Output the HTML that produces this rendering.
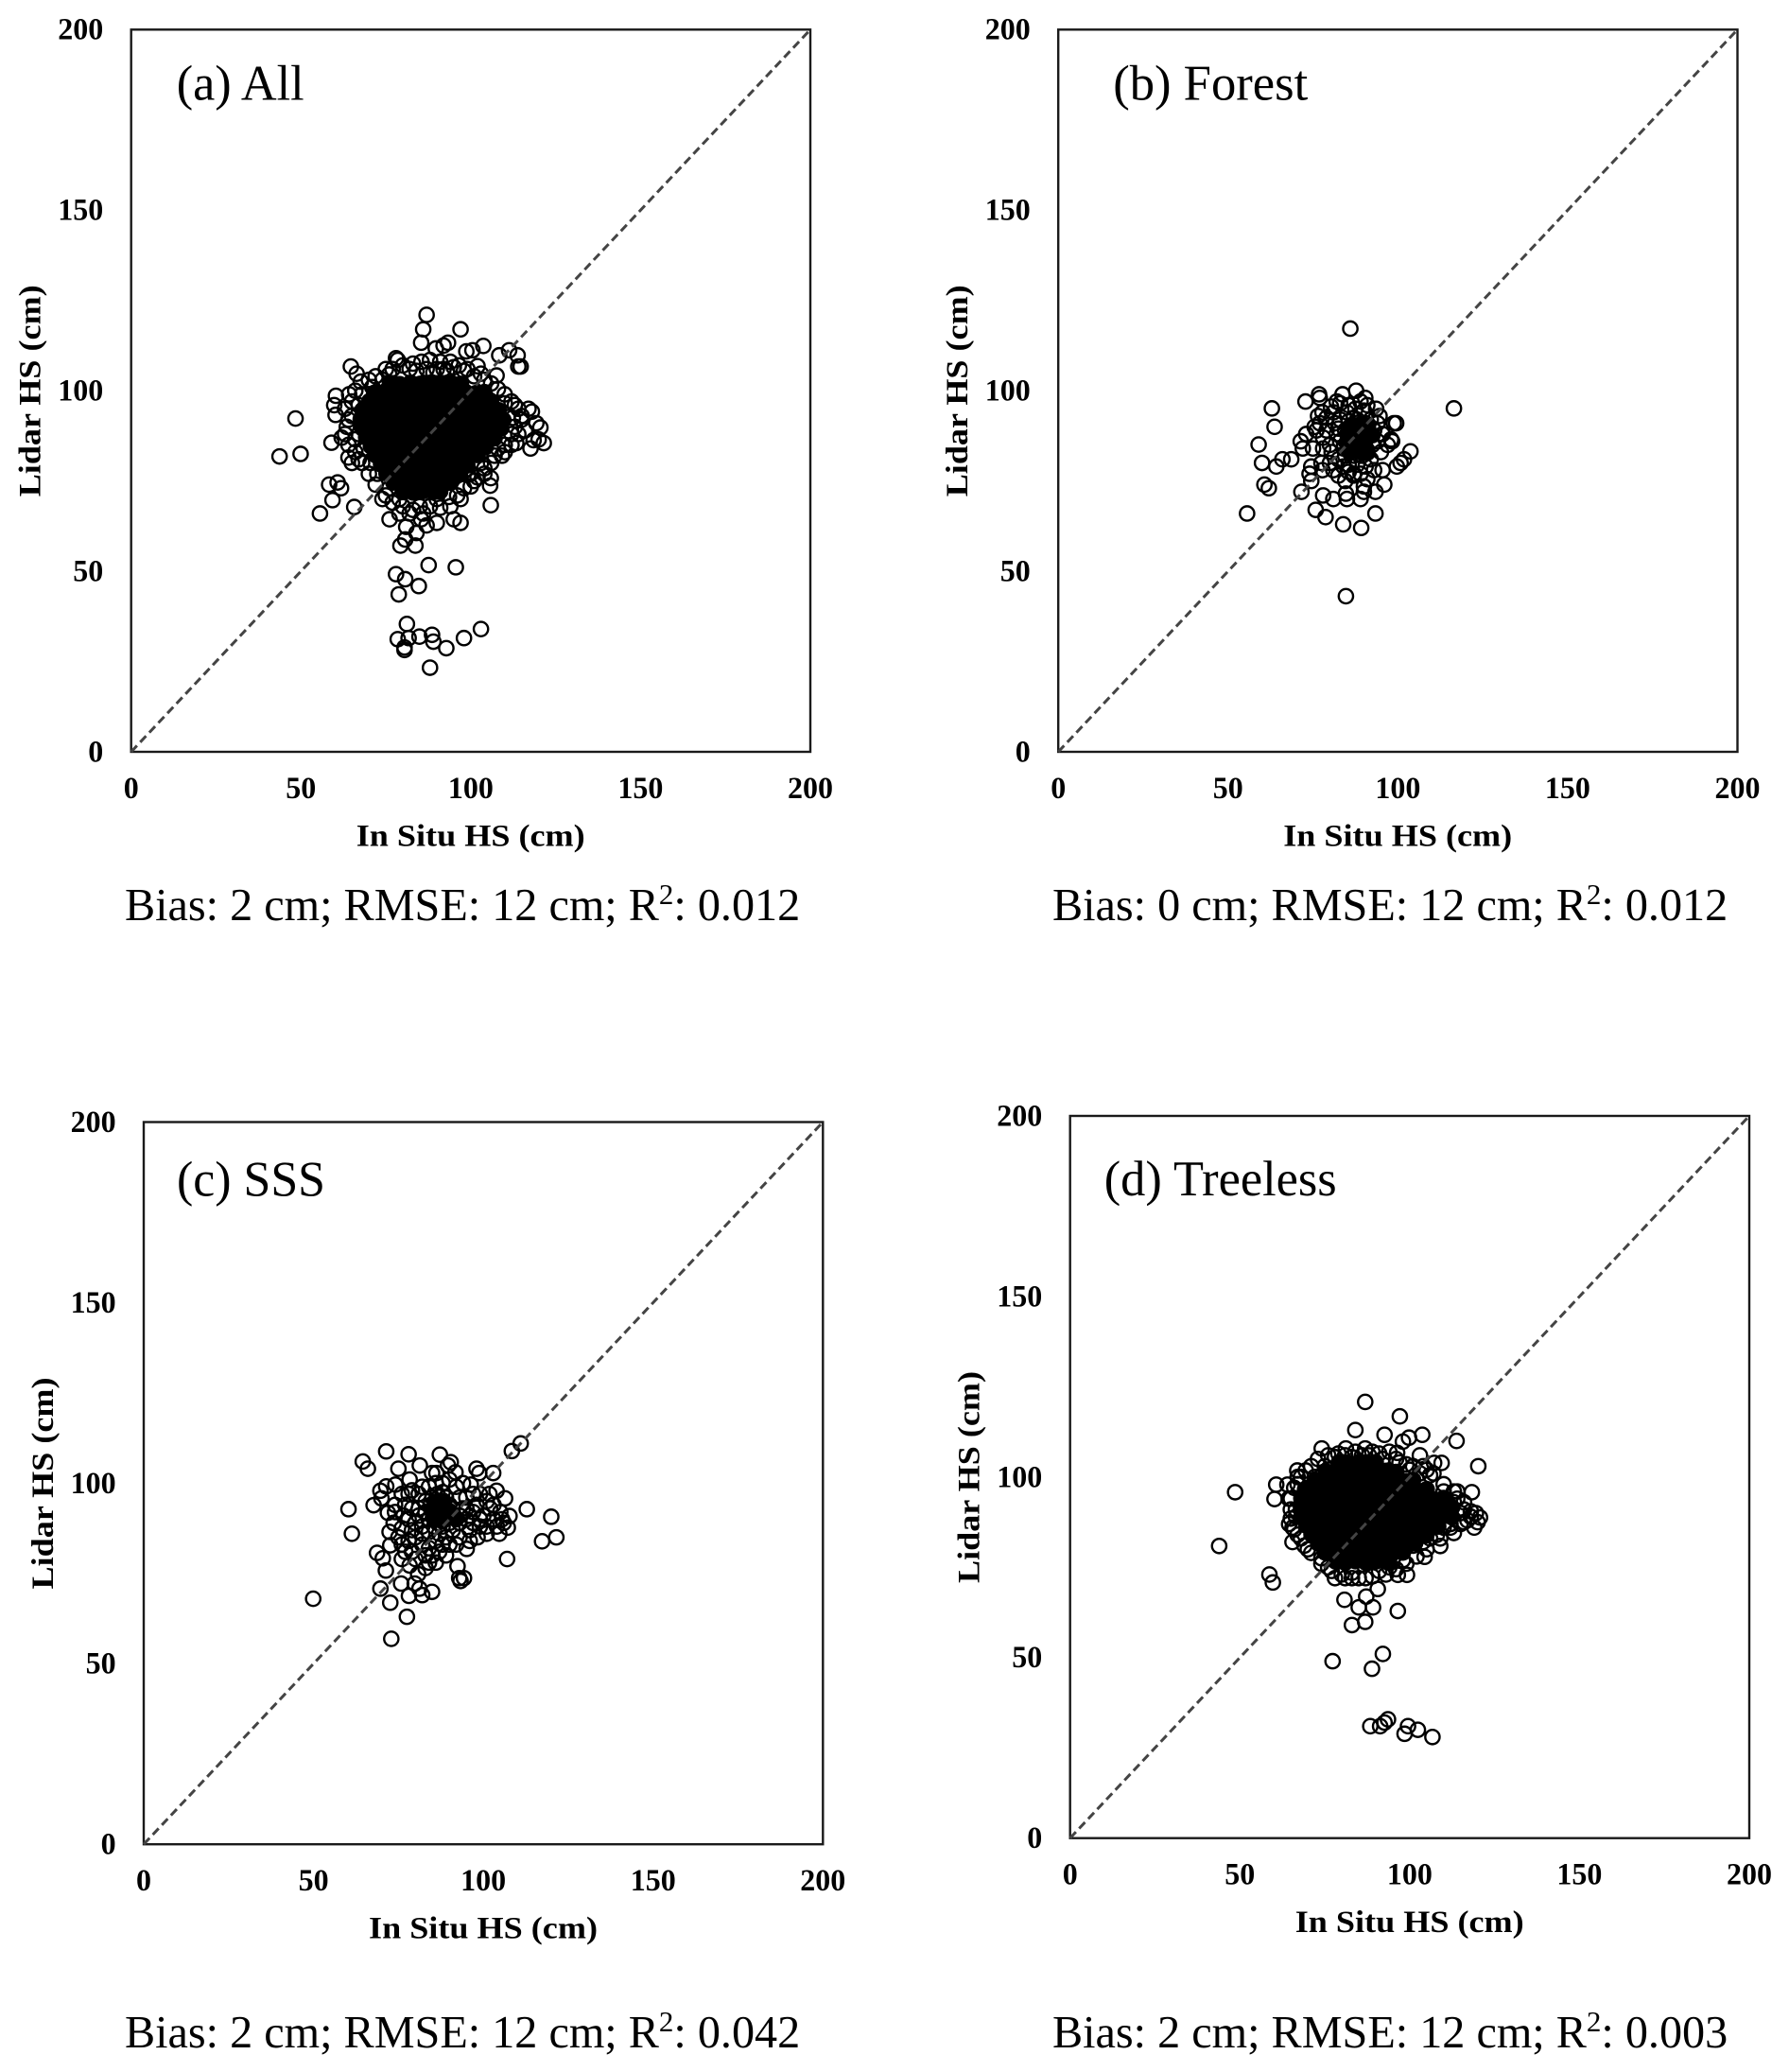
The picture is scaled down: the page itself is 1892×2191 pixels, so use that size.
<!DOCTYPE html>
<html lang="en">
<head>
<meta charset="utf-8">
<title>Lidar HS vs In Situ HS</title>
<style>
html,body{margin:0;padding:0;background:#fff;}
svg{display:block;}
text{fill:#000;font-family:"Liberation Serif",serif;}
.tick{font-size:33px;font-weight:bold;}
.axis-title{font-size:33px;font-weight:bold;}
.panel-title{font-size:53px;}
.stats{font-size:48.2px;}
.frame{fill:none;stroke:#1a1a1a;stroke-width:2.4px;}
</style>
</head>
<body>
<svg id="chart" width="1892" height="2191" viewBox="0 0 1892 2191" xmlns="http://www.w3.org/2000/svg">
  <rect width="1892" height="2191" fill="#fff"/>

  <g id="panel-a" transform="translate(138.7,31.3)">
    <rect class="frame" width="718.3" height="763.7"/>
    <text class="panel-title" x="48" y="74" textLength="135" lengthAdjust="spacingAndGlyphs">(a) All</text>
    <text class="axis-title" x="359" y="863" text-anchor="middle" textLength="242" lengthAdjust="spacingAndGlyphs">In Situ HS (cm)</text>
    <text class="axis-title" transform="translate(-96,382) rotate(-90)" text-anchor="middle" textLength="224" lengthAdjust="spacingAndGlyphs">Lidar HS (cm)</text>
  </g>
  <g id="panel-b" transform="translate(1119.2,31.3)">
    <rect class="frame" width="718.3" height="763.7"/>
    <text class="panel-title" x="58" y="74" textLength="206" lengthAdjust="spacingAndGlyphs">(b) Forest</text>
    <text class="axis-title" x="359" y="863" text-anchor="middle" textLength="242" lengthAdjust="spacingAndGlyphs">In Situ HS (cm)</text>
    <text class="axis-title" transform="translate(-96,382) rotate(-90)" text-anchor="middle" textLength="224" lengthAdjust="spacingAndGlyphs">Lidar HS (cm)</text>
  </g>
  <g id="panel-c" transform="translate(152,1186.5)">
    <rect class="frame" width="718.3" height="763.7"/>
    <text class="panel-title" x="35" y="78" textLength="157" lengthAdjust="spacingAndGlyphs">(c) SSS</text>
    <text class="axis-title" x="359" y="863" text-anchor="middle" textLength="242" lengthAdjust="spacingAndGlyphs">In Situ HS (cm)</text>
    <text class="axis-title" transform="translate(-96,382) rotate(-90)" text-anchor="middle" textLength="224" lengthAdjust="spacingAndGlyphs">Lidar HS (cm)</text>
  </g>
  <g id="panel-d" transform="translate(1131.7,1180)">
    <rect class="frame" width="718.3" height="763.7"/>
    <text class="panel-title" x="36" y="84" textLength="246" lengthAdjust="spacingAndGlyphs">(d) Treeless</text>
    <text class="axis-title" x="359" y="863" text-anchor="middle" textLength="242" lengthAdjust="spacingAndGlyphs">In Situ HS (cm)</text>
    <text class="axis-title" transform="translate(-96,382) rotate(-90)" text-anchor="middle" textLength="224" lengthAdjust="spacingAndGlyphs">Lidar HS (cm)</text>
  </g>

  <text class="stats" x="132" y="973">Bias: 2 cm; RMSE: 12 cm; R<tspan dy="-17" font-size="31">2</tspan><tspan dy="17">: 0.012</tspan></text>
  <text class="stats" x="1113" y="973">Bias: 0 cm; RMSE: 12 cm; R<tspan dy="-17" font-size="31">2</tspan><tspan dy="17">: 0.012</tspan></text>
  <text class="stats" x="132" y="2165">Bias: 2 cm; RMSE: 12 cm; R<tspan dy="-17" font-size="31">2</tspan><tspan dy="17">: 0.042</tspan></text>
  <text class="stats" x="1113" y="2165">Bias: 2 cm; RMSE: 12 cm; R<tspan dy="-17" font-size="31">2</tspan><tspan dy="17">: 0.003</tspan></text>
</svg>

<script>
var tickValues = [0, 50, 100, 150, 200];
var axisMin = 0;
var axisMax = 200;

var pointsAll = [
[43.7,81.8],[48.4,92.3],[49.9,82.5],[55.6,66],[59,85.6],[59.8,96],[60.3,98.6],[60.2,93.3],[58.3,74],[59.3,69.7],[60.8,74.6],[61.8,73],[65.7,67.8],[64.7,106.7],[66.4,104.7],[67.6,102.5],[64.2,99],[62,87],[63.5,90],[64,81.5],[65,80],[67,81],[66,86.5],[65,93],[67,96],
[78,109],[78.5,108.5],[87,121],[86,117],[85.4,113.3],[97,117],[103.7,112.4],[93.3,113.3],[92,112.5],[89.7,111.7],[98.7,110.9],[100.5,111.2],[108.4,109.8],[111.3,111.2],[113.8,109.8],[114,106.7],[114.7,106.7],[103,104.7],[107.6,104.2],[102,106.8],[88,108.5],[91,108],[94,108],[96.5,107],[80,107],[83,107.5],[85.5,108],[90,106],[93,105.5],[98,105.5],
[117,95],[118,94.2],[119.3,91],[120.5,89.8],[121.5,85.5],[118.5,86.3],[117.6,84],[113.4,85.5],[112.4,92.5],[115,92],[109.2,82],[105.9,75.8],[105.7,73.7],[105.9,68.3],[99.2,76.7],[110,96.5],[113,96],[108,84],[103,80],[120,86.5],[116,89],
[76.1,64.4],[79.3,57.1],[80.7,58.8],[83.7,57.1],[84,60.6],[81,62.3],[85.4,64.4],[87,62.7],[90,63.4],[91,67.6],[95,64.4],[97,63.4],[93.6,70.6],[87.6,51.7],[95.6,51.1],[78,49.2],[80.7,47.8],[84.7,45.9],[78.8,43.6],[81.2,35.4],[103,34],[88.6,32.4],[84.9,31.9],[78.5,31.2],[81.7,31.5],[89,30.5],[98,31.5],[92.8,28.7],[80.5,28.9],[80.5,28.2],[88,23.3],[79,66],[82,66],[88,68],[74,70],[76,73],
[72.5,77],[70.5,80],[68.5,84],[67,88],[100,73.5],[102,76],[104,78.5],[107,82],[110,85],[112,88],[71,101],[74,103],[76,104.5],
[72,104],[75,106],[77,106],[82,106],[84,105.5],[87,106],[89,105],[92,106],[95,106.5],[99,106],[101,104],[104,103],[106,102],[108,100.5],[110,99],[112,97],[114,95],[115,93],[113,90],[114,88],[112,85],[110,83],[106,80],[104,77],[101,75],[98,73],[96,71],[94,68],[86,66],[83,67],[80,68],[77,69],[75,71],[72,74],[70,77],[68,80],[66,83],[64,85],[63,88],[64,92],[63,95],[65,97],[66,100],[68,99],[70,103],[97,70],[90,70],[85,68],[79,70],[100,77]
];

var denseAll = [
[76.2,102.1],[79.1,101.8],[82.3,102.2],[85.1,101.9],[88.2,102.1],[91,101.8],[94.2,102.2],[97.1,101.9],
[71.6,99.4],[74.6,99.7],[77.5,99.3],[80.4,99.6],[83.5,99.4],[86.4,99.7],[89.5,99.3],[92.4,99.6],[95.5,99.4],[98.4,99.7],[101.5,99.3],[104,99.6],
[70.2,97.1],[73.1,96.8],[76.1,97.2],[79,96.9],[82.1,97.1],[85,96.8],[88.1,97.2],[91,96.9],[94.1,97.1],[97,96.8],[100.1,97.2],[103,96.9],[106,97.1],
[68.1,94.6],[71,94.3],[74,94.7],[77,94.4],[80,94.6],[83,94.3],[86,94.7],[89,94.4],[92,94.6],[95,94.3],[98,94.7],[101,94.4],[104,94.6],[107,94.3],[108.2,94.6],
[67.6,92.1],[69.5,91.8],[72.5,92.2],[75.5,91.9],[78.5,92.1],[81.5,91.8],[84.5,92.2],[87.5,91.9],[90.5,92.1],[93.5,91.8],[96.5,92.2],[99.5,91.9],[102.5,92.1],[105.5,91.8],[108.5,92.2],[109.6,91.9],
[68.1,89.6],[71,89.3],[74,89.7],[77,89.4],[80,89.6],[83,89.3],[86,89.7],[89,89.4],[92,89.6],[95,89.3],[98,89.7],[101,89.4],[104,89.6],[107,89.3],[109,89.6],
[69.2,87.1],[72.5,86.8],[75.5,87.2],[78.5,86.9],[81.5,87.1],[84.5,86.8],[87.5,87.2],[90.5,86.9],[93.5,87.1],[96.5,86.8],[99.5,87.2],[102.5,86.9],[105.5,87.1],[107,86.8],
[70.6,84.6],[74,84.3],[77,84.7],[80,84.4],[83,84.6],[86,84.3],[89,84.7],[92,84.4],[95,84.6],[98,84.3],[101,84.7],[104.4,84.4],
[72.1,82.1],[75.5,81.8],[78.5,82.2],[81.5,81.9],[84.5,82.1],[87.5,81.8],[90.5,82.2],[93.5,81.9],[96.5,82.1],[99.5,81.8],[102,82.2],
[73.6,79.6],[77,79.3],[80,79.7],[83,79.4],[86,79.6],[89,79.3],[92,79.7],[95,79.4],[98,79.6],[99,79.3],
[75.2,77.1],[78.5,76.8],[81.5,77.2],[84.5,76.9],[87.5,77.1],[90.5,76.8],[93.5,77.2],[96.8,76.9],
[77.2,74.6],[80,74.3],[83,74.7],[86,74.4],[89,74.6],[92,74.3],[94,74.7],
[80.1,72.1],[83,71.8],[86,72.2],[89,71.9],[91,72.1]
];

var pointsForest = [
[86,117.2],[116.5,95.1],[84.7,43.1],[55.6,66],[62.9,95.1],[63.7,90],[59,85.1],[60,80],[60.7,74],[62,73],[64.2,79],[66,81],[68.6,81],[72.8,97],[76.8,99],[77,98],[83.7,99],[87.7,100],[90.4,98],[93.6,95],[94.6,93],[98.8,91],[98.3,86],[97,85],[103.7,83.2],[101.8,81],[100.8,80],[99.7,79],[95.5,78],[96,74],[93.4,72],[93.4,66],[89.2,62],[83.9,63],[78.7,65],[75.8,67],[78,71],[71.6,72],[74.5,75],[74,77],[74.5,79],[77.8,78],[77.5,80],[81,70],[85,70],[84.7,71.5],[89,70],[90,73.5],[84.5,75],[71.4,86],[72,84],[73,88],[75,84],[76,89],[77.8,94],[80.3,95.6],[79,92.5],[99.5,91],[98,86.5],[90,72],[87,77],[81,78],[78,84],[79,89],[75.5,90],[76.5,93],[82,97],[85.5,96],[80,85],[82,88],[82.5,81],[84,79],
[85,94],[87.5,95],[90,94.5],[92,92],[83,92],[85.5,91.5],[88,92],[90.5,91],[93,89],[82.5,89.5],[84.5,89],[87,89.5],[89.5,89],[91.5,88],[94,86],[83,86],[85.5,86.5],[88,87],[90,86.5],[92.5,85],[84,84],[86.5,84.5],[89,84.5],[91,83.5],[84.5,82],[87,82],[89.5,82],[92,81],[85.5,79.5],[88,79.5],[90.5,79],[87,76.5],[89,77],[86.5,87.5],[88.5,85.5],[86,90],[88.5,90],[87,92.5],
[80.5,83],[81.5,91],[94,91],[95.5,88],[95,83],[93,78],[91,75.5],[85.5,77.5],[82.5,76.5],[80,80],[78,87],[77,91],[81,94],[83,96.5],[91,96],[89,97]
];

var denseForest = [
[86.2,90.4],[88.8,90.6],[91.2,90.2],[85.1,88],[87.8,87.8],[90.5,88.1],[92.5,87.7],[84.9,85.6],[87.6,85.4],[90.3,85.7],[85.8,83],[88.5,83.2],[91,82.8]
];

var pointsSss = [
[49.9,68],[60.3,92.8],[61.3,86],[64.5,106],[66,104],[71.4,108.8],[78,108],[87.2,107.9],[75,104],[81.3,104.9],[90.4,105.8],[91.8,103],[98,104],[98.8,102.8],[102.9,102.8],[108.4,108.9],[111,111],[112.8,92.8],[120,90.7],[117.3,83.9],[121.5,85],[107,79],[92.4,77],[92.9,73.7],[94.3,73.7],[93.3,72.9],[95.1,81.8],[84.9,69.9],[82,69],[78.1,68.8],[79.8,72.2],[75.8,72.2],[81.2,70.8],[69.7,70.8],[72.6,66.9],[77.5,63],[72.9,56.9],[68.7,80.7],[70.4,79.2],[71.3,75.8],[72.6,82.8],[76,79],[78.3,77.2],[80.8,74.8],[84,78],[67.7,93.9],[69.7,97.9],[70,95.8],[71.4,99.1],[74.1,99.6],[78.3,101],[84.9,102.8],[86.2,102.8],[89.6,104.9],[103.9,97.9],[106.4,95.8],[101.8,97],[96.3,99.6],[105.5,90],[107.7,90.9],[107.2,87.7],[104.7,86],[98.3,85],[72.4,86.5],[73.6,89],[71.9,91.8],[76.5,91],[78,97],[79,93],[75,85],[78,84],[76,87.5],[80,89],[82,86],[79,81],[82,83],[84,99],[88,100],[92,99],[95,96],[98,94],[100,91],[102,93],[99,88],[96,87],[93,85],[90,83],[87,81],[85,80],[95,90],[93,96],[81,97],[77,94],[74,92],[79,87],
[84,90],[85.5,88],[87,86],[89,85],[91,87],[93,89],[96,91],[94,93],[92,90],[90,89],[88,88],[86,84],[83,92],[84.5,94],[85,96],[86.5,97],[88,97.5],[89,96],[90,94],[88.5,94],[87,95],[85.5,92.5],[86.5,91],[88,91.5],[89.5,92.5],[91,93],[87,93],[85.5,90.5],[88,89.5],[90,91],[86.5,89],[84,86.5],[82,88],[81,91],[83,95],
[76,83],[78,90],[80,85],[81,93],[74,94],[76,97],[79,98],[82,99],[86,100],[90,101],[94,100],[97,97],[99,97],[101,95],[103,90],[101,88],[97,89],[95,93],[93,91],[97,92],[99,90],[96,84],[92,83],[88,83],[84,82],[80,79],[77,81],[83,80],[86,78],[89,80],[83,76.5],[101,86],[104,88],[106,89],[103,94],[105,92]
];

var denseSss = [
[85.6,94.8],[88.2,95.1],[84.9,92.3],[87.5,92.6],[90.1,92.2],[85.6,90],[88.3,89.8],[91.5,90.4]
];

var pointsTreeless = [
[43.9,80.9],[48.6,95.8],[60.2,93.9],[60.7,97.9],[58.7,73],[59.7,70.8],[65.5,82],[64,97.9],[64.4,94],[66.9,101.8],[69.4,101.8],[74.1,107.9],[84,113],[86.9,120.8],[97.1,116.8],[92.6,111.7],[98,109.8],[99.8,110.9],[103.7,111.7],[113.8,110],[120.2,103],[118.3,95.8],[109.4,103.9],[107.2,103.9],[103,106],[96.3,106.7],[86.9,107.9],[81.2,107.9],[120.7,88.8],[119,86],[119.5,90],[104.4,77.9],[109,80.9],[103.9,82],[99.2,72.9],[96.5,72.9],[90.6,69],[87.2,66.9],[80.8,66],[85,63.9],[89.2,63.9],[96.5,62.9],[83,59],[86.9,59.9],[92.1,51],[77.3,49],[88.9,46.9],[88.4,31],[91.3,31],[92.6,32],[93.6,32.9],[99.5,31],[98.5,28.9],[102.4,30],[106.7,28],
[64.5,87],[65,88.5],[65.5,86],[66.5,89],[66,85.5],[67,98],[70,97],[72,100],[75,103],[78,105.5],[83,105.5],[92,105],[96,105],[99,103.5],[103,101],[106,100.5],[110,98],[113,96],[114,94],[116,91],[117,88],[115,87],[112,86],[110,86],[106,83],[101,81],[98,77],[94,75],[76,75],[74,77.5],[78,72],[81,72],[83,72],[85,72],[87,72],[89,72.5],[91,74],[70,80],[68,83],[66.5,91],[114,96],[116,93],[118,89],[120,87.5],[118,90.5],[112,87],[108,84],[86,106],[89,107],[101,103],[105,102],[79,106.5],
[68,100],[71,103],[73,105],[76,106],[81,106],[84,107],[88,106],[91,106.5],[94,107],[97,104],[100,102],[104,103],[107,101],[110,96],[113,93],[115,90],[116,87.5],[113,84.5],[109,83],[105,80],[102,78],[99,76],[96,74.5],[93,73],[83,73.5],[80,73],[77,74],[74,76],[71,79],[69,81],[67,84],[65,91],[65,94],[66,97],[67,100]
];

var denseTreeless = [
[79.2,104.1],[82.1,103.8],[85.2,104.2],[88.1,103.9],[90,104.1],
[75.3,101.6],[78.2,101.3],[81.2,101.7],[84.2,101.4],[87.2,101.6],[90.2,101.3],[93.2,101.7],[96,101.4],
[72.2,99.1],[75,98.8],[78,99.2],[81,98.9],[84,99.1],[87,98.8],[90,99.2],[93,98.9],[96,99.1],[99,98.8],[101,99.2],
[69.2,96.6],[72,96.3],[75,96.7],[78,96.4],[81,96.6],[84,96.3],[87,96.7],[90,96.4],[93,96.6],[96,96.3],[99,96.7],[102,96.4],[105,96.6],
[68.1,94.1],[71,93.8],[74,94.2],[77,93.9],[80,94.1],[83,93.8],[86,94.2],[89,93.9],[92,94.1],[95,93.8],[98,94.2],[101,93.9],[104,94.1],[107,93.8],[110,94.2],
[68,91.6],[69.5,91.3],[72.5,91.7],[75.5,91.4],[78.5,91.6],[81.5,91.3],[84.5,91.7],[87.5,91.4],[90.5,91.6],[93.5,91.3],[96.5,91.7],[99.5,91.4],[102.5,91.6],[105.5,91.3],[108.5,91.7],[111,91.4],[112.5,91.6],
[68.1,89.1],[71,88.8],[74,89.2],[77,88.9],[80,89.1],[83,88.8],[86,89.2],[89,88.9],[92,89.1],[95,88.8],[98,89.2],[101,88.9],[104,89.1],[107,88.8],[110,89.2],[112.4,88.9],
[69.5,86.6],[72.5,86.3],[75.5,86.7],[78.5,86.4],[81.5,86.6],[84.5,86.3],[87.5,86.7],[90.5,86.4],[93.5,86.6],[96.5,86.3],[99.5,86.7],[102.5,86.4],[105.5,86.6],[108.4,86.3],
[71.1,84.1],[74,83.8],[77,84.2],[80,83.9],[83,84.1],[86,83.8],[89,84.2],[92,83.9],[95,84.1],[98,83.8],[101,84.2],[104.8,83.9],
[73.1,81.6],[75.5,81.3],[78.5,81.7],[81.5,81.4],[84.5,81.6],[87.5,81.3],[90.5,81.7],[93.5,81.4],[96.5,81.6],[99.5,81.3],[101.6,81.7],
[75.1,79.1],[77,78.8],[80,79.2],[83,78.9],[86,79.1],[89,78.8],[92,79.2],[95,78.9],[98,79.1],
[78.2,76.6],[81,76.3],[84,76.7],[87,76.4],[90,76.6],[93.8,76.3]
];

var plotWidth = 718.3;
var plotHeight = 763.7;
var svgNS = 'http://www.w3.org/2000/svg';

function xScale(value) {
  return (value - axisMin) / (axisMax - axisMin) * plotWidth;
}
function yScale(value) {
  return plotHeight - (value - axisMin) / (axisMax - axisMin) * plotHeight;
}

function drawPanel(panelId, key, points, densePoints) {
  var group = document.getElementById(panelId);

  tickValues.forEach(function (tick) {
    var xLabel = document.createElementNS(svgNS, 'text');
    xLabel.setAttribute('class', 'tick');
    xLabel.setAttribute('x', xScale(tick));
    xLabel.setAttribute('y', plotHeight + 49);
    xLabel.setAttribute('text-anchor', 'middle');
    xLabel.setAttribute('textLength', tick === 0 ? 16 : (tick < 100 ? 32 : 48));
    xLabel.setAttribute('lengthAdjust', 'spacingAndGlyphs');
    
    
    xLabel.textContent = tick;
    group.appendChild(xLabel);

    var yLabel = document.createElementNS(svgNS, 'text');
    yLabel.setAttribute('class', 'tick');
    yLabel.setAttribute('x', -29.4);
    yLabel.setAttribute('y', yScale(tick) + 10.4);
    yLabel.setAttribute('text-anchor', 'end');
    yLabel.setAttribute('textLength', tick === 0 ? 16 : (tick < 100 ? 32 : 48));
    yLabel.setAttribute('lengthAdjust', 'spacingAndGlyphs');
    
    
    yLabel.textContent = tick;
    group.appendChild(yLabel);
  });

  points.forEach(function (pair) {
    var point = document.createElementNS(svgNS, 'circle');
    point.setAttribute('cx', xScale(pair[0]));
    point.setAttribute('cy', yScale(pair[1]));
    point.setAttribute('r', '7.6');
    point.setAttribute('fill', 'none');
    point.setAttribute('stroke', '#000');
    point.setAttribute('stroke-width', '2.4');
    
    
    group.appendChild(point);
  });

  densePoints.forEach(function (pair) {
    var core = document.createElementNS(svgNS, 'circle');
    core.setAttribute('cx', xScale(pair[0]));
    core.setAttribute('cy', yScale(pair[1]));
    core.setAttribute('r', '7.6');
    core.setAttribute('fill', '#000');
    core.setAttribute('stroke', '#000');
    core.setAttribute('stroke-width', '2.4');
    
    
    group.appendChild(core);
  });

  var diagonal = document.createElementNS(svgNS, 'line');
  diagonal.setAttribute('x1', xScale(axisMin));
  diagonal.setAttribute('y1', yScale(axisMin));
  diagonal.setAttribute('x2', xScale(axisMax));
  diagonal.setAttribute('y2', yScale(axisMax));
  diagonal.setAttribute('stroke', '#444');
  diagonal.setAttribute('stroke-width', '3');
  diagonal.setAttribute('stroke-dasharray', '9 5');
  
  
  group.appendChild(diagonal);
}

drawPanel('panel-a', 'all', pointsAll, denseAll);
drawPanel('panel-b', 'forest', pointsForest, denseForest);
drawPanel('panel-c', 'sss', pointsSss, denseSss);
drawPanel('panel-d', 'treeless', pointsTreeless, denseTreeless);
</script>
</body>
</html>
